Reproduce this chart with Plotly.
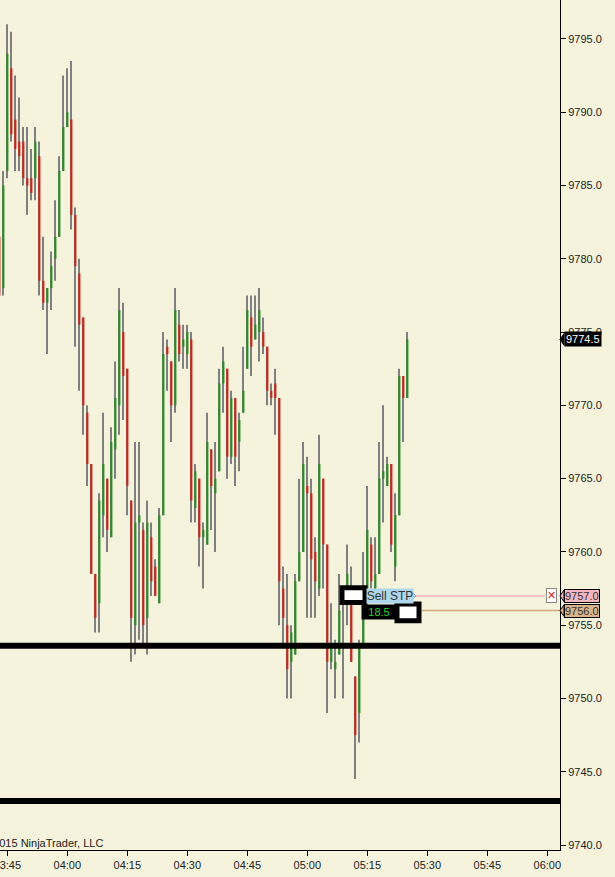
import pandas as pd
import plotly.graph_objects as go

# 1-minute bars, 03:43 .. 05:25
start_time = "2015-06-01 03:43"

open_ = [9781.5, 9778.0, 9786.0, 9793.0, 9789.5, 9788.0, 9788.0, 9785.5, 9785.5, 9785.5,
         9787.0, 9778.5, 9777.0, 9778.0, 9780.0, 9781.5, 9786.0, 9789.0, 9789.5, 9783.0,
         9779.0, 9776.0, 9769.5, 9766.0, 9758.5, 9756.5, 9762.5, 9765.0, 9761.0, 9767.0,
         9770.0, 9775.0, 9772.5, 9763.5, 9755.0, 9762.0, 9761.5, 9755.5, 9761.0, 9759.0,
         9756.5, 9762.5, 9774.0, 9773.0, 9770.0, 9775.5, 9774.0, 9773.5, 9774.5, 9763.0,
         9765.0, 9761.0, 9760.5, 9767.0, 9764.0, 9765.5, 9771.5, 9772.5, 9766.5, 9770.5,
         9767.5, 9769.5, 9772.5, 9776.0, 9774.5, 9775.0, 9775.0, 9774.0, 9771.0, 9771.5,
         9770.5, 9757.5, 9755.0, 9752.5, 9753.0, 9758.0, 9760.0, 9764.5, 9764.0, 9760.0,
         9757.5, 9765.0, 9760.5, 9752.5, 9752.0, 9753.0, 9755.5, 9757.5, 9756.5, 9751.5,
         9749.0, 9753.5, 9757.5, 9760.5, 9757.5, 9758.5, 9765.0, 9764.5, 9766.0, 9759.0,
         9762.5, 9772.0, 9770.5]
high = [9782.0, 9786.0, 9796.0, 9795.5, 9792.5, 9791.0, 9789.0, 9789.0, 9787.5, 9789.0,
        9788.0, 9781.5, 9778.0, 9780.5, 9784.0, 9787.0, 9792.5, 9793.0, 9793.5, 9783.5,
        9780.0, 9776.0, 9770.0, 9766.0, 9758.5, 9764.0, 9769.5, 9765.0, 9768.5, 9773.0,
        9778.0, 9777.0, 9772.5, 9763.5, 9767.5, 9767.5, 9762.0, 9763.5, 9762.0, 9759.5,
        9763.0, 9775.0, 9774.5, 9773.0, 9778.0, 9776.5, 9775.5, 9775.5, 9775.0, 9766.0,
        9765.0, 9762.0, 9769.5, 9767.0, 9767.5, 9772.5, 9774.0, 9772.5, 9771.0, 9770.5,
        9769.5, 9774.0, 9777.5, 9777.5, 9777.5, 9778.0, 9776.0, 9774.0, 9771.5, 9772.5,
        9770.5, 9759.0, 9758.5, 9755.0, 9758.5, 9765.0, 9767.5, 9766.5, 9765.0, 9761.0,
        9768.0, 9765.0, 9760.5, 9756.5, 9754.0, 9758.5, 9756.5, 9760.5, 9759.0, 9751.5,
        9754.0, 9760.0, 9764.5, 9761.0, 9761.0, 9767.5, 9770.0, 9766.5, 9766.0, 9764.0,
        9772.5, 9772.0, 9775.0]
low = [9777.0, 9777.5, 9785.5, 9788.0, 9786.0, 9786.0, 9785.0, 9783.0, 9784.0, 9784.0,
       9777.5, 9776.5, 9773.5, 9776.5, 9778.5, 9781.5, 9786.0, 9789.0, 9782.0, 9774.0,
       9771.0, 9768.0, 9764.5, 9758.5, 9754.5, 9754.5, 9761.0, 9760.0, 9761.0, 9765.0,
       9768.0, 9769.0, 9762.5, 9752.5, 9753.0, 9754.0, 9753.5, 9753.0, 9757.0, 9757.0,
       9756.5, 9762.5, 9771.0, 9767.5, 9769.5, 9773.0, 9772.5, 9772.5, 9762.0, 9762.0,
       9759.0, 9757.5, 9760.5, 9761.5, 9760.0, 9765.5, 9769.5, 9765.0, 9766.0, 9764.5,
       9765.5, 9769.5, 9772.5, 9772.0, 9774.5, 9773.0, 9773.5, 9770.0, 9770.0, 9768.0,
       9755.0, 9753.5, 9750.0, 9750.0, 9753.0, 9758.0, 9760.0, 9755.5, 9755.5, 9755.5,
       9757.0, 9757.5, 9749.0, 9752.0, 9750.0, 9753.0, 9750.0, 9755.0, 9752.5, 9744.5,
       9747.0, 9753.5, 9757.0, 9757.5, 9757.0, 9758.5, 9762.0, 9764.5, 9760.0, 9758.0,
       9762.5, 9767.5, 9770.5]
close = [9777.5, 9785.0, 9794.0, 9788.5, 9787.5, 9787.0, 9785.5, 9785.0, 9784.5, 9788.0,
         9778.5, 9777.0, 9778.0, 9779.5, 9781.5, 9786.0, 9789.0, 9790.0, 9783.0, 9779.5,
         9775.5, 9770.0, 9766.0, 9758.5, 9755.5, 9763.5, 9766.0, 9761.5, 9767.5, 9770.5,
         9776.5, 9772.0, 9764.5, 9755.5, 9762.0, 9762.5, 9755.0, 9762.0, 9758.0, 9757.0,
         9762.5, 9773.5, 9773.5, 9770.0, 9776.5, 9773.5, 9774.5, 9775.0, 9763.5, 9765.5,
         9761.0, 9761.5, 9767.5, 9764.5, 9765.0, 9771.5, 9773.0, 9766.5, 9770.5, 9766.5,
         9769.0, 9771.0, 9776.5, 9774.0, 9775.5, 9776.5, 9774.0, 9771.0, 9770.5, 9770.5,
         9758.0, 9755.5, 9752.0, 9754.5, 9758.0, 9760.0, 9766.0, 9764.0, 9759.5, 9758.0,
         9766.0, 9760.5, 9752.5, 9753.5, 9752.5, 9756.0, 9755.5, 9758.5, 9752.5, 9747.5,
         9753.5, 9756.5, 9761.5, 9758.0, 9758.5, 9765.0, 9765.5, 9766.0, 9760.5, 9762.5,
         9772.0, 9770.5, 9774.5]

level_lines = [9753.6, 9743.0]
sell_stop = 9757.0
target = 9756.0
last_price = 9774.5
y_ticks = [9740, 9745, 9750, 9755, 9760, 9765, 9770, 9775, 9780, 9785, 9790, 9795]

BG = "#F5F3DC"
UP = "#2F8A2A"
DOWN = "#C8281E"
WICK = "#808080"
FONT = "Liberation Sans, Arial, sans-serif"

times = pd.date_range(start_time, periods=len(open_), freq="1min")
body_lo = [min(o, c) for o, c in zip(open_, close)]
body_len = [abs(c - o) for o, c in zip(open_, close)]
body_col = [UP if c >= o else DOWN for o, c in zip(open_, close)]
wick_len = [h - l for h, l in zip(high, low)]

fig = go.Figure()
fig.add_trace(go.Bar(x=times, y=wick_len, base=low, width=15000,
                     marker=dict(color=WICK, line_width=0), hoverinfo="skip"))
fig.add_trace(go.Bar(x=times, y=body_len, base=body_lo, width=33000,
                     marker=dict(color=body_col, line_width=0),
                     customdata=list(zip(open_, high, low, close)),
                     hovertemplate="O %{customdata[0]}<br>H %{customdata[1]}<br>"
                                   "L %{customdata[2]}<br>C %{customdata[3]}<extra></extra>"))

PW = 560.0  # plot width in px, used to place order tags


def px(v):
    return v / PW


shapes = []
for lv in level_lines:
    shapes.append(dict(type="line", xref="paper", yref="y", x0=0, x1=1, y0=lv, y1=lv,
                       line=dict(color="black", width=6)))
# order lines
shapes.append(dict(type="line", xref="paper", yref="y", x0=px(414), x1=px(545), y0=sell_stop, y1=sell_stop,
                   line=dict(color="#F2B3C0", width=1.5)))
shapes.append(dict(type="line", xref="paper", yref="y", x0=px(422), x1=1, y0=target, y1=target,
                   line=dict(color="#D2A679", width=1.5)))
# black/white order handle boxes
shapes.append(dict(type="rect", xref="paper", yref="y", x0=px(342), x1=px(365), y0=sell_stop - 0.45,
                   y1=sell_stop + 0.55, fillcolor="white", line=dict(color="black", width=5)))
shapes.append(dict(type="rect", xref="paper", yref="y", x0=px(397), x1=px(419), y0=target - 0.7,
                   y1=target + 0.45, fillcolor="white", line=dict(color="black", width=5)))
# pointed right end of the Sell STP tag
shapes.append(dict(type="path", xref="paper", yref="y",
                   path=f"M {px(411)},{sell_stop + 0.34} L {px(416)},{sell_stop} "
                        f"L {px(411)},{sell_stop - 0.34} Z",
                   fillcolor="#ADD7EE", line=dict(color="#7FA8C0", width=1)))
# right-axis price tag pointers
for lv, col in [(last_price, "black"), (sell_stop, "#F4B6C2"), (target, "#D9B38C")]:
    shapes.append(dict(type="path", xref="paper", yref="y",
                       path=f"M 1.0,{lv} L {1 + 4 / PW},{lv + 0.4} L {1 + 4 / PW},{lv - 0.4} Z",
                       fillcolor=col, line=dict(color="black", width=1)))

annotations = [
    dict(text="©2015 NinjaTrader, LLC", xref="paper", yref="paper", x=0, y=0.008,
         xanchor="left", yanchor="middle", xshift=-17, showarrow=False,
         font=dict(family=FONT, size=11, color="#222")),
    dict(text="Sell STP", xref="paper", yref="y", x=px(366), y=sell_stop, xanchor="left",
         yanchor="middle", showarrow=False, bgcolor="#ADD7EE", borderpad=0, width=46,
         font=dict(family=FONT, size=12, color="#333")),
    dict(text="18.5", xref="paper", yref="y", x=px(361), y=target - 0.12, xanchor="left",
         yanchor="middle", showarrow=False, bgcolor="black", borderpad=1, width=32,
         font=dict(family=FONT, size=11, color="#33CC33")),
    dict(text="<b>✕</b>", xref="paper", yref="y", x=px(546), y=sell_stop, xanchor="left",
         yanchor="middle", showarrow=False, bgcolor="white", bordercolor="#888", borderwidth=1,
         borderpad=0, font=dict(family="DejaVu Sans", size=11, color="#E02020")),
    dict(text=f"{last_price:.1f}", xref="paper", yref="y", x=1, y=last_price, xanchor="left",
         yanchor="middle", xshift=4, showarrow=False, bgcolor="black", borderpad=1,
         font=dict(family=FONT, size=11, color="white")),
    dict(text=f"{sell_stop:.1f}", xref="paper", yref="y", x=1, y=sell_stop, xanchor="left",
         yanchor="middle", xshift=4, showarrow=False, bgcolor="#F4B6C2", bordercolor="black",
         borderwidth=1, borderpad=0, font=dict(family=FONT, size=11, color="#333")),
    dict(text=f"{target:.1f}", xref="paper", yref="y", x=1, y=target, xanchor="left",
         yanchor="middle", xshift=4, showarrow=False, bgcolor="#D9B38C", bordercolor="black",
         borderwidth=1, borderpad=0, font=dict(family=FONT, size=11, color="#333")),
]

fig.update_layout(
    width=615, height=877,
    margin=dict(l=0, r=55, t=0, b=27),
    paper_bgcolor=BG, plot_bgcolor=BG,
    barmode="overlay", showlegend=False,
    font=dict(family=FONT, size=11, color="#222"),
    shapes=shapes, annotations=annotations,
)
fig.update_xaxes(
    type="date", range=["2015-06-01 03:43:10", "2015-06-01 06:03:10"],
    dtick=15 * 60 * 1000, tick0="2015-06-01 03:45", tickformat="%H:%M",
    ticks="outside", ticklen=5, tickcolor="black", showgrid=False, zeroline=False,
    showline=True, linecolor="black", linewidth=1, automargin=False,
    ticklabeloverflow="allow",
)
fig.update_yaxes(
    side="right", range=[9739.66, 9797.66], tickvals=y_ticks, tickformat=".1f",
    ticks="outside", ticklen=5, tickcolor="black", showgrid=False, zeroline=False,
    showline=True, linecolor="black", linewidth=1, automargin=False,
)

# page body has a default 8px margin; drop it so the chart sits at the window corner
fig.write_html("out.html", config={"displayModeBar": False},
               post_script="document.body.style.margin='0px';")
